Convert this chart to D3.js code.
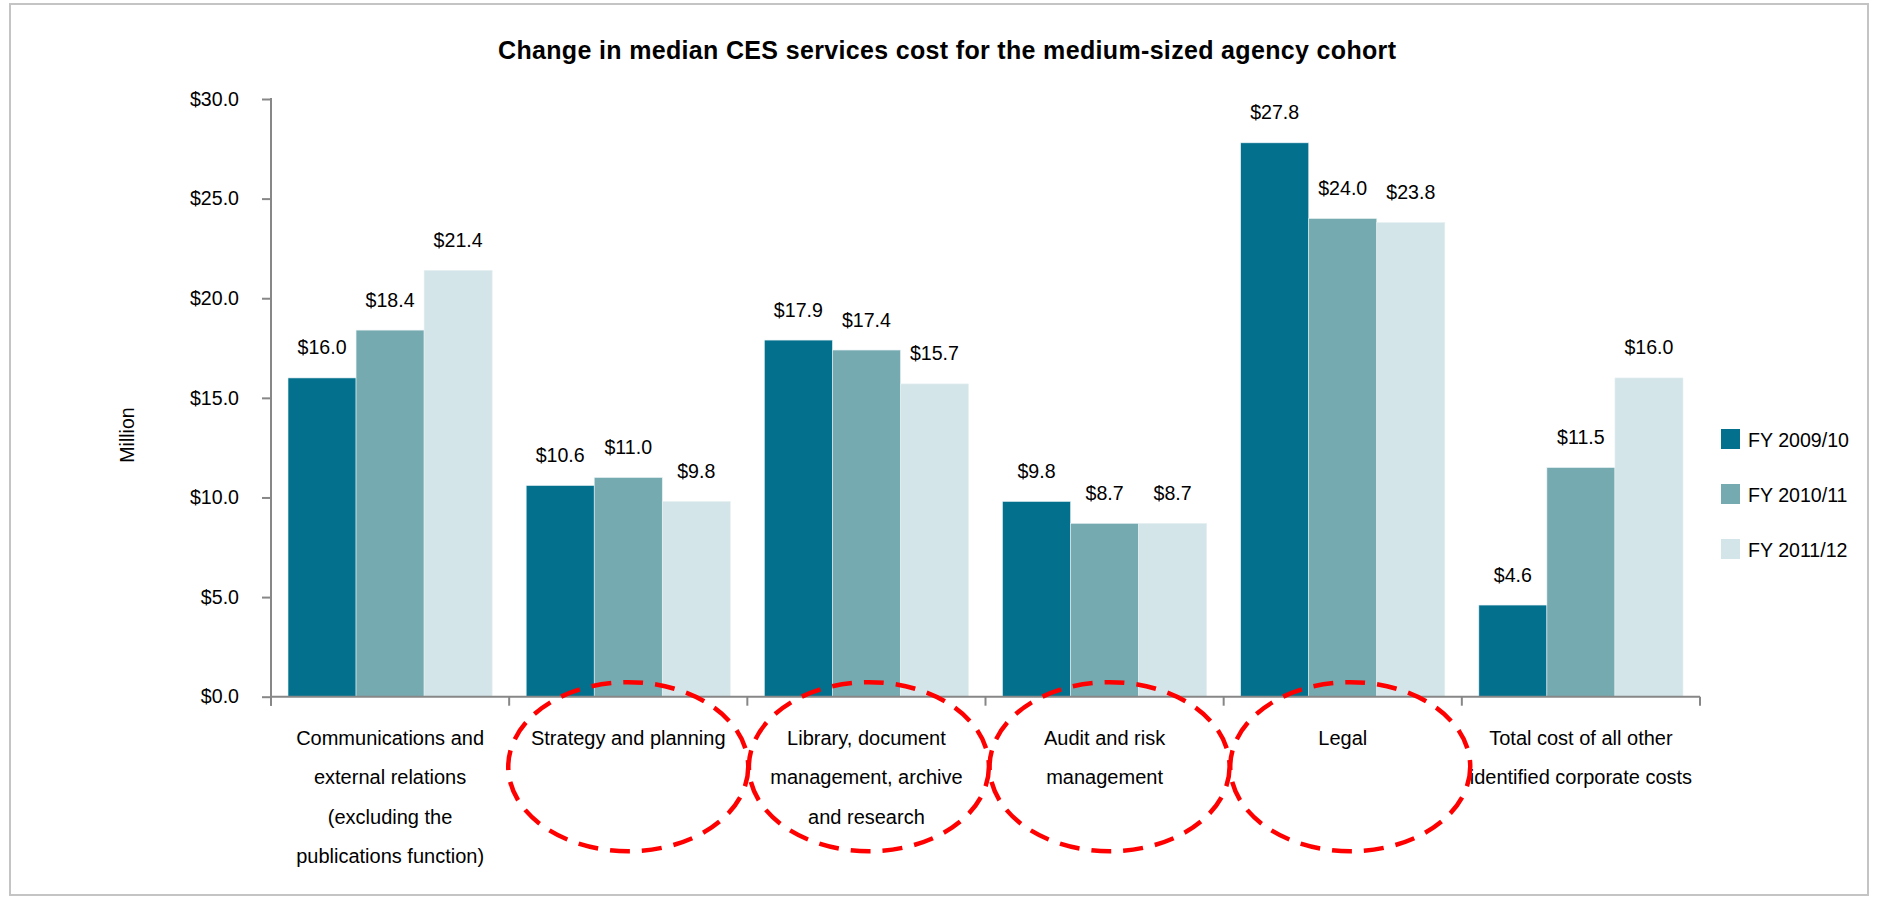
<!DOCTYPE html>
<html>
<head>
<meta charset="utf-8">
<script src="https://cdn.jsdelivr.net/npm/d3@7/dist/d3.min.js"></script>
<style>
  html, body { margin: 0; padding: 0; background: #ffffff; }
  svg { display: block; font-family: "Liberation Sans", Arial, sans-serif; }
</style>
</head>
<body>
<svg id="chart" width="1881" height="906"></svg>
<script>
// Median CES services cost, medium-sized agency cohort ($ million)
const categories = [
  "Communications and external relations (excluding the publications function)",
  "Strategy and planning",
  "Library, document management, archive and research",
  "Audit and risk management",
  "Legal",
  "Total cost of all other identified corporate costs"
];
const categoryLines = [
  ["Communications and", "external relations", "(excluding the", "publications function)"],
  ["Strategy and planning"],
  ["Library, document", "management, archive", "and research"],
  ["Audit and risk", "management"],
  ["Legal"],
  ["Total cost of all other", "identified corporate costs"]
];
const seriesNames = ["FY 2009/10", "FY 2010/11", "FY 2011/12"];
const fy2009 = [16.0, 10.6, 17.9, 9.8, 27.8, 4.6];
const fy2010 = [18.4, 11.0, 17.4, 8.7, 24.0, 11.5];
const fy2011 = [21.4, 9.8, 15.7, 8.7, 23.8, 16.0];
const yTicks = [0, 5, 10, 15, 20, 25, 30];
// categories ringed by the dashed red outline
const highlighted = [
  "Strategy and planning",
  "Library, document management, archive and research",
  "Audit and risk management",
  "Legal"
];

const seriesValues = [fy2009, fy2010, fy2011];
const colors = ["#03708e", "#75aab0", "#d3e5e8"];

const svg = d3.select("#chart");
const axisColor = "#878787";
const plot = { left: 271, right: 1700, top: 99, bottom: 696.7 };

// outer frame
svg.append("rect")
  .attr("x", 10).attr("y", 4).attr("width", 1858).attr("height", 891)
  .attr("fill", "#ffffff").attr("stroke", "#c4c4c4").attr("stroke-width", 2);

// title
svg.append("text")
  .attr("x", 498).attr("y", 59)
  .attr("font-size", 25).attr("font-weight", "bold").attr("fill", "#000")
  .attr("textLength", 898).attr("lengthAdjust", "spacing")
  .text("Change in median CES services cost for the medium-sized agency cohort");

const x0 = d3.scaleBand().domain(categories).range([plot.left, plot.right]).padding(0);
const x1 = d3.scaleBand().domain(seriesNames).range([0, x0.bandwidth()])
  .paddingInner(0).paddingOuter(0.25);
const y = d3.scaleLinear().domain([0, 30]).range([plot.bottom, plot.top]);

// bars
const groups = svg.append("g").selectAll("g")
  .data(categories)
  .join("g")
  .attr("transform", d => `translate(${x0(d)},0)`);

groups.selectAll("rect")
  .data((c, i) => seriesNames.map((s, k) => ({ s, k, v: seriesValues[k][i] })))
  .join("rect")
  .attr("x", d => x1(d.s))
  .attr("y", d => y(d.v))
  .attr("width", x1.bandwidth())
  .attr("height", d => y(0) - y(d.v))
  .attr("fill", d => colors[d.k])
  .attr("stroke", "#e6f0f2").attr("stroke-width", 0.6);

// value labels
groups.selectAll("text.val")
  .data((c, i) => seriesNames.map((s, k) => ({ s, k, v: seriesValues[k][i] })))
  .join("text")
  .attr("class", "val")
  .attr("x", d => x1(d.s) + x1.bandwidth() / 2)
  .attr("y", d => y(d.v) - 23.5)
  .attr("text-anchor", "middle")
  .attr("font-size", 19.6).attr("fill", "#000")
  .text(d => "$" + d3.format(".1f")(d.v));

// y axis
const yAxis = d3.axisLeft(y).tickValues(yTicks)
  .tickFormat(d => "$" + d3.format(".1f")(d))
  .tickSize(9).tickSizeOuter(0).tickPadding(23);
const gy = svg.append("g").attr("transform", `translate(${plot.left},0)`).call(yAxis);
gy.select(".domain").remove();
gy.selectAll(".tick line").attr("stroke", axisColor).attr("stroke-width", 2);
gy.selectAll(".tick text").attr("font-size", 19.6).attr("fill", "#000")
  .attr("font-family", "Liberation Sans, Arial, sans-serif");
svg.append("line")
  .attr("x1", plot.left).attr("x2", plot.left)
  .attr("y1", y(30) - 1).attr("y2", plot.bottom + 9)
  .attr("stroke", axisColor).attr("stroke-width", 2);

// y axis title
svg.append("text")
  .attr("transform", "translate(134,435) rotate(-90)")
  .attr("text-anchor", "middle")
  .attr("font-size", 19.6).attr("fill", "#000")
  .text("Million");

// x axis: baseline with boundary ticks
svg.append("line")
  .attr("x1", plot.left).attr("x2", plot.right)
  .attr("y1", y(0)).attr("y2", y(0))
  .attr("stroke", axisColor).attr("stroke-width", 2);
const boundaries = categories.map(c => x0(c)).concat([x0(categories[categories.length - 1]) + x0.bandwidth()]);
svg.append("g").selectAll("line")
  .data(boundaries)
  .join("line")
  .attr("x1", d => d).attr("x2", d => d)
  .attr("y1", y(0)).attr("y2", y(0) + 9)
  .attr("stroke", axisColor).attr("stroke-width", 2);

// category labels
const lineGap = 39.3;
svg.append("g").selectAll("text")
  .data(categories)
  .join("text")
  .attr("text-anchor", "middle")
  .attr("font-size", 20).attr("fill", "#000")
  .attr("transform", d => `translate(${x0(d) + x0.bandwidth() / 2},745)`)
  .each(function (d, i) {
    d3.select(this).selectAll("tspan")
      .data(categoryLines[i])
      .join("tspan")
      .attr("x", 0)
      .attr("y", (t, j) => j * lineGap)
      .text(t => t);
  });

// legend
const legend = svg.append("g").selectAll("g")
  .data(seriesNames)
  .join("g")
  .attr("transform", (d, i) => `translate(1721,${429 + i * 55})`);
legend.append("rect")
  .attr("width", 19).attr("height", 20)
  .attr("fill", (d, i) => colors[i]);
legend.append("text")
  .attr("x", 27).attr("y", 18)
  .attr("font-size", 19.6).attr("fill", "#000")
  .text(d => d);

// dashed red outlines around selected categories
svg.append("g").selectAll("ellipse")
  .data(highlighted)
  .join("ellipse")
  .attr("cx", (d, i) => x0(d) + x0.bandwidth() / 2 + i * 2.5)
  .attr("cy", y(0) + 70)
  .attr("rx", 120).attr("ry", 84.5)
  .attr("fill", "none")
  .attr("stroke", "#ff0000").attr("stroke-width", 4.5)
  .attr("stroke-dasharray", "20 12");
</script>
</body>
</html>
